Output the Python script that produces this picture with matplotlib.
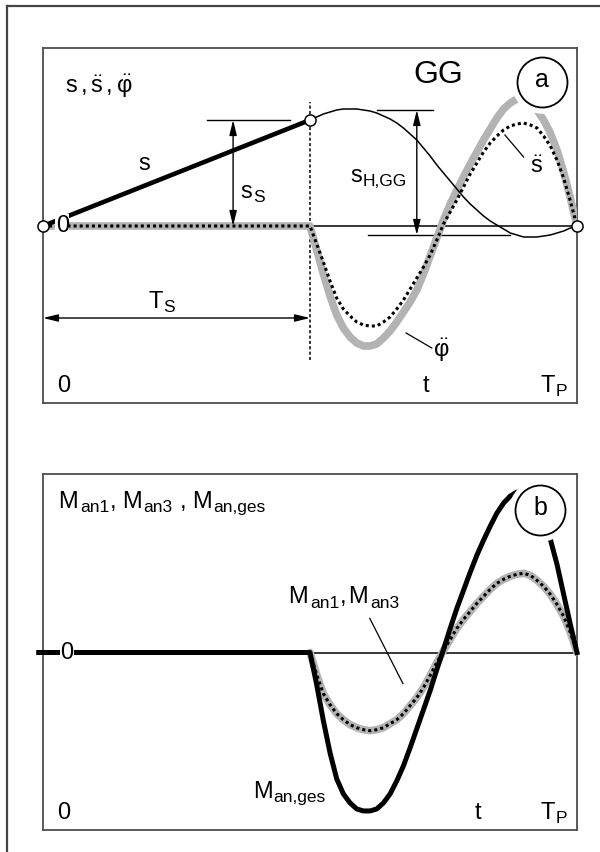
import matplotlib.pyplot as plt
from matplotlib.lines import Line2D

plt.rcParams["font.family"] = ["Liberation Sans", "DejaVu Sans"]
plt.rcParams["mathtext.fontset"] = "custom"
plt.rcParams["mathtext.rm"] = "Liberation Sans"
plt.rcParams["mathtext.it"] = "Liberation Sans"
plt.rcParams["mathtext.default"] = "regular"

# time normalised to the period T_P, switch point T_S
T_S = 0.5
t_grid = [0.5000, 0.5125, 0.5250, 0.5375, 0.5500, 0.5625, 0.5750, 0.5875, 0.6000, 0.6125,
          0.6250, 0.6375, 0.6500, 0.6625, 0.6750, 0.6875, 0.7000, 0.7125, 0.7250, 0.7375,
          0.7500, 0.7625, 0.7750, 0.7875, 0.8000, 0.8125, 0.8250, 0.8375, 0.8500, 0.8625,
          0.8750, 0.8875, 0.9000, 0.9125, 0.9250, 0.9375, 0.9500, 0.9625, 0.9750, 0.9875,
          1.0000]

# (a) stroke s: ramp up to s_S, then GG return section
s_ramp_t = [0.0, T_S]
s_ramp = [0.0, 1.06]
s_gg = [1.06, 1.09, 1.12, 1.14, 1.16, 1.17, 1.17, 1.17, 1.16, 1.15,
        1.13, 1.10, 1.07, 1.03, 0.98, 0.92, 0.86, 0.78, 0.70, 0.61,
        0.53, 0.45, 0.37, 0.29, 0.22, 0.16, 0.10, 0.05, 0.01, -0.03,
        -0.07, -0.09, -0.11, -0.11, -0.11, -0.10, -0.09, -0.07, -0.05, -0.02,
        0.0]
s_dd = [0.0, -0.18, -0.36, -0.55, -0.72, -0.83, -0.90, -0.96, -0.99, -1.00,
        -1.00, -0.96, -0.91, -0.83, -0.74, -0.63, -0.52, -0.41, -0.29, -0.14,
        0.02, 0.14, 0.26, 0.39, 0.52, 0.63, 0.74, 0.83, 0.90, 0.96,
        1.00, 1.02, 1.03, 1.01, 0.98, 0.90, 0.80, 0.66, 0.48, 0.25,
        0.0]
phi_dd = [0.0, -0.24, -0.48, -0.70, -0.89, -1.02, -1.11, -1.17, -1.20, -1.20,
          -1.18, -1.12, -1.05, -0.96, -0.86, -0.76, -0.64, -0.48, -0.30, -0.12,
          0.06, 0.22, 0.36, 0.49, 0.62, 0.74, 0.86, 0.97, 1.08, 1.17,
          1.23, 1.27, 1.27, 1.23, 1.16, 1.06, 0.93, 0.76, 0.54, 0.28,
          0.0]

# (b) drive torques; M_an1 and M_an3 coincide
m_an13 = [0.0, -0.22, -0.41, -0.52, -0.61, -0.67, -0.72, -0.75, -0.77, -0.78,
          -0.77, -0.75, -0.71, -0.67, -0.61, -0.53, -0.45, -0.35, -0.23, -0.10,
          0.02, 0.13, 0.24, 0.33, 0.41, 0.49, 0.56, 0.63, 0.69, 0.73,
          0.76, 0.78, 0.79, 0.77, 0.72, 0.66, 0.58, 0.48, 0.36, 0.20,
          0.0]
m_an_ges = [0.0, -0.32, -0.68, -1.00, -1.26, -1.41, -1.50, -1.56, -1.58, -1.58,
            -1.56, -1.50, -1.41, -1.28, -1.13, -0.95, -0.76, -0.57, -0.38, -0.17,
            0.03, 0.24, 0.44, 0.62, 0.80, 0.97, 1.12, 1.26, 1.39, 1.49,
            1.56, 1.60, 1.60, 1.55, 1.46, 1.32, 1.13, 0.88, 0.58, 0.28,
            0.0]

GREY = "#b3b3b3"
FS = 17
FS_SUB = 12.5

fig = plt.figure(figsize=(6, 8.52), dpi=100)
fig.add_artist(Line2D([7 / 600, 7 / 600], [0, 1 - 6 / 852], color="#444444", lw=1.6))
fig.add_artist(Line2D([7 / 600, 1], [1 - 6 / 852, 1 - 6 / 852], color="#444444", lw=1.6))

ax1 = fig.add_axes([43 / 600, 1 - 403 / 852, 534 / 600, 355 / 852])
ax2 = fig.add_axes([43 / 600, 1 - 830 / 852, 534 / 600, 356 / 852])
for ax in (ax1, ax2):
    ax.set_xlim(0, 1)
    ax.set_ylim(-1.77, 1.78)
    ax.set_xticks([])
    ax.set_yticks([])
    for sp in ax.spines.values():
        sp.set_color("#4d4d4d")
        sp.set_linewidth(1.3)


def label(ax, x, y, parts):
    """Write a label from (text, is_subscript, gap) pieces, left to right on one baseline."""
    prev = None
    for txt, is_sub, gap in parts:
        size = FS_SUB if is_sub else FS
        dy = -3.0 if is_sub else 0.0
        if prev is None:
            prev = ax.text(x, y, txt, fontsize=size, ha="left", va="baseline")
        else:
            prev = ax.annotate(txt, xy=(1, y), xycoords=(prev, "data"),
                               xytext=(gap, dy), textcoords="offset points",
                               fontsize=size, ha="left", va="baseline")
    return prev


def arrow(ax, p0, p1):
    ax.annotate("", xy=p1, xytext=p0,
                arrowprops=dict(arrowstyle="<|-|>,head_length=0.9,head_width=0.22",
                                color="k", lw=1.0, shrinkA=0, shrinkB=0))


def badge(ax, x, y, letter):
    ax.plot(x, y, "o", ms=44, mfc="white", mec="white", zorder=7)
    ax.plot(x, y, "o", ms=36, mfc="white", mec="k", mew=1.3, zorder=8)
    ax.text(x, y + 0.02, letter, ha="center", va="center", fontsize=18, zorder=9)


# ---- panel a ----
ax1.plot([T_S, 1], [0, 0], color="k", lw=1.1, zorder=2)
ax1.plot([0] + t_grid, [0] + phi_dd, color=GREY, lw=5.5,
         solid_capstyle="round", solid_joinstyle="round", zorder=3)
ax1.plot([0] + t_grid, [0] + s_dd, color="k", lw=2.2, ls=(0, (1, 1)), zorder=4)
ax1.plot(s_ramp_t, s_ramp, color="k", lw=3.3, solid_capstyle="butt", zorder=4)
ax1.plot(t_grid, s_gg, color="k", lw=1.1, zorder=4)
ax1.plot([T_S, T_S], [-1.34, 1.24], color="k", lw=1.1, ls=(0, (2, 1.5)), zorder=2)

for x, y in [(0, 0), (1, 0), (T_S, s_ramp[-1])]:
    ax1.plot(x, y, "o", ms=8, mfc="white", mec="k", mew=1.1, clip_on=False, zorder=6)

ax1.text(0.036, 0, "0", ha="center", va="center", fontsize=17, zorder=5,
         bbox=dict(facecolor="white", edgecolor="none", pad=0.5))
ax1.text(0.041, 1.33, r"$s\,,\ddot{s}\,,\ddot{\varphi}$", ha="left", va="baseline", fontsize=FS)
ax1.text(0.693, 1.43, "GG", ha="left", va="baseline", fontsize=23)
badge(ax1, 0.934, 1.44, "a")

ax1.text(0.178, 0.56, "s", ha="left", va="baseline", fontsize=FS)
ax1.plot([0.307, 0.463], [1.06, 1.06], color="k", lw=1.0)
arrow(ax1, (0.356, 0), (0.356, 1.06))
label(ax1, 0.369, 0.28, [("s", False, 0), ("S", True, 0.8)])

ax1.plot([0.625, 0.730], [1.16, 1.16], color="k", lw=1.0)
ax1.plot([0.609, 0.875], [-0.09, -0.09], color="k", lw=1.0)
arrow(ax1, (0.700, -0.09), (0.700, 1.16))
label(ax1, 0.575, 0.44, [("s", False, 0), ("H,GG", True, 0.8)])

ax1.plot([0.865, 0.900], [0.91, 0.69], color="k", lw=0.9)
ax1.text(0.912, 0.53, r"$\ddot{s}$", ha="left", va="baseline", fontsize=FS)
ax1.plot([0.680, 0.728], [-1.07, -1.22], color="k", lw=0.9)
ax1.text(0.731, -1.31, r"$\ddot{\varphi}$", ha="left", va="baseline", fontsize=FS)

arrow(ax1, (0.0, -0.92), (T_S, -0.92))
label(ax1, 0.197, -0.82, [("T", False, 0), ("S", True, 0.6)])

ax1.text(0.026, -1.66, "0", ha="left", va="baseline", fontsize=FS)
ax1.text(0.710, -1.66, "t", ha="left", va="baseline", fontsize=FS)
label(ax1, 0.931, -1.66, [("T", False, 0), ("P", True, 0.6)])

# ---- panel b ----
ax2.plot([T_S, 1], [0, 0], color="k", lw=1.1, zorder=2)
ax2.plot(t_grid, m_an13, color=GREY, lw=5.5, solid_capstyle="round", zorder=3)
ax2.plot(t_grid, m_an13, color="k", lw=2.2, ls=(0, (1, 1)), zorder=4)
ax2.plot([-0.008] + t_grid, [0] + m_an_ges, color="k", lw=3.6,
         solid_joinstyle="round", clip_on=False, zorder=4)

ax2.text(0.045, 0, "0", ha="center", va="center", fontsize=17, zorder=5,
         bbox=dict(facecolor="white", edgecolor="none", pad=0.5))
label(ax2, 0.028, 1.44, [("M", False, 0), ("an1", True, 1.5), (",", False, 0.5),
                         ("M", False, 4), ("an3", True, 1.5), (",", False, 5),
                         ("M", False, 4), ("an,ges", True, 1.0)])
badge(ax2, 0.931, 1.42, "b")

label(ax2, 0.459, 0.49, [("M", False, 0), ("an1", True, 1.5), (",", False, 0.5),
                         ("M", False, 1.5), ("an3", True, 1.5)])
ax2.plot([0.612, 0.674], [0.34, -0.31], color="k", lw=0.9)
label(ax2, 0.393, -1.45, [("M", False, 0), ("an,ges", True, 0.6)])

ax2.text(0.026, -1.66, "0", ha="left", va="baseline", fontsize=FS)
ax2.text(0.809, -1.66, "t", ha="left", va="baseline", fontsize=FS)
label(ax2, 0.931, -1.66, [("T", False, 0), ("P", True, 0.6)])

fig.savefig("out.png", dpi=100)
